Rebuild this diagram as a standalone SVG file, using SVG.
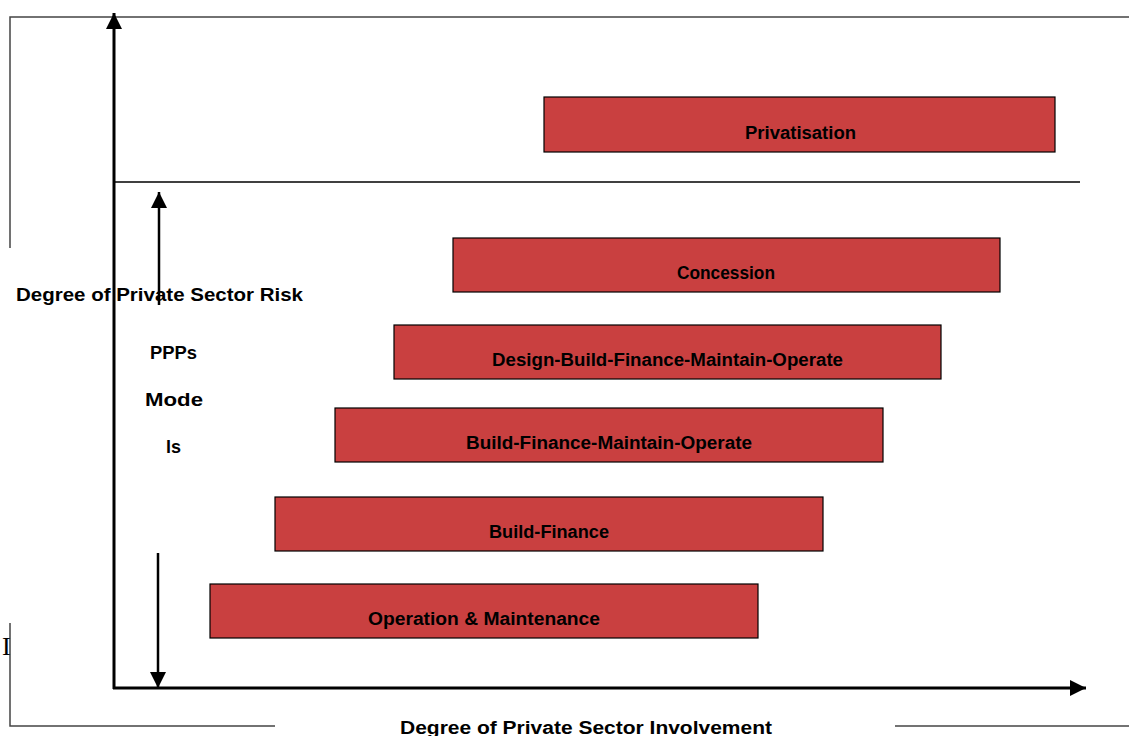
<svg xmlns="http://www.w3.org/2000/svg" width="1129" height="736" viewBox="0 0 1129 736">
<style>
.frame{stroke:#444;stroke-width:1.5;fill:none}
.axis{stroke:#000;stroke-width:3;fill:none}
.thin{stroke:#000;stroke-width:1.3;fill:none}
.bar{fill:#C94040;stroke:#000;stroke-width:1.2}
.t{font-family:"Liberation Sans",Arial,sans-serif;font-weight:bold;font-size:18px;fill:#000}
</style>
<defs>
<marker id="ah" viewBox="0 0 10 10" refX="10" refY="5" markerWidth="16" markerHeight="16" markerUnits="userSpaceOnUse" orient="auto">
<path d="M0,0 L10,5 L0,10 Z" fill="#000"/>
</marker>
</defs>
<rect width="1129" height="736" fill="#fff"/>
<g id="frame">
<path class="frame" d="M10,248 V17 H1129"/>
<path class="frame" d="M10,623 V726 H275"/>
<path class="frame" d="M895,726 H1129"/>
<text x="2" y="655" font-family="Liberation Serif,serif" font-size="26" fill="#000">I</text>
</g>
<g id="connectors">
<line class="axis" x1="114" y1="689" x2="114" y2="13" marker-end="url(#ah)"/>
<line class="axis" x1="113" y1="688" x2="1086" y2="688" marker-end="url(#ah)"/>
<line class="thin" x1="114" y1="182" x2="1080" y2="182"/>
<line x1="159" y1="305" x2="159" y2="192" stroke="#000" stroke-width="2.5" marker-end="url(#ah)"/>
<line x1="158" y1="553" x2="158" y2="688" stroke="#000" stroke-width="2.5" marker-end="url(#ah)"/>
</g>
<g id="privatisation"><rect class="bar" x="544" y="97" width="511" height="55"/><text class="t" x="745" y="139" textLength="111" lengthAdjust="spacingAndGlyphs">Privatisation</text></g>
<g id="concession"><rect class="bar" x="453" y="238" width="547" height="54"/><text class="t" x="677" y="279" textLength="98" lengthAdjust="spacingAndGlyphs">Concession</text></g>
<g id="dbfmo"><rect class="bar" x="394" y="325" width="547" height="54"/><text class="t" x="492" y="366" textLength="351" lengthAdjust="spacingAndGlyphs">Design-Build-Finance-Maintain-Operate</text></g>
<g id="bfmo"><rect class="bar" x="335" y="408" width="548" height="54"/><text class="t" x="466" y="449" textLength="286" lengthAdjust="spacingAndGlyphs">Build-Finance-Maintain-Operate</text></g>
<g id="bf"><rect class="bar" x="275" y="497" width="548" height="54"/><text class="t" x="489" y="538" textLength="120" lengthAdjust="spacingAndGlyphs">Build-Finance</text></g>
<g id="om"><rect class="bar" x="210" y="584" width="548" height="54"/><text class="t" x="368" y="625" textLength="232" lengthAdjust="spacingAndGlyphs">Operation &amp; Maintenance</text></g>
<g id="labels">
<text class="t" x="16" y="301" textLength="287" lengthAdjust="spacingAndGlyphs">Degree of Private Sector Risk</text>
<text class="t" x="150" y="359" textLength="47" lengthAdjust="spacingAndGlyphs">PPPs</text>
<text class="t" x="145" y="406" textLength="58" lengthAdjust="spacingAndGlyphs">Mode</text>
<text class="t" x="166" y="453" textLength="15" lengthAdjust="spacingAndGlyphs">ls</text>
<text class="t" x="400" y="734" textLength="372" lengthAdjust="spacingAndGlyphs">Degree of Private Sector Involvement</text>
</g>
</svg>
